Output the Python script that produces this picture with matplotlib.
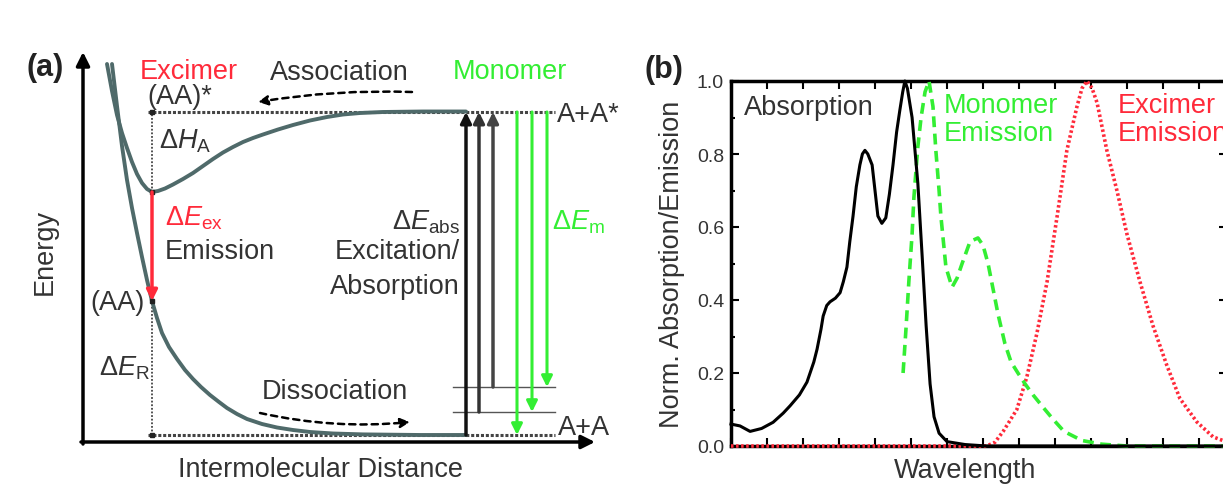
import matplotlib
matplotlib.use("Agg")
import matplotlib.pyplot as plt
from matplotlib.ticker import MultipleLocator, NullFormatter

plt.rcParams["font.family"] = ["Liberation Sans", "DejaVu Sans"]
plt.rcParams["mathtext.fontset"] = "custom"
plt.rcParams["mathtext.rm"] = "Liberation Sans"
plt.rcParams["mathtext.it"] = "Liberation Sans:italic"
plt.rcParams["mathtext.bf"] = "Liberation Sans:bold"

TXT = "#333333"
CURVE = "#4f6a6a"
RED = "#ff2a3a"
GREEN = "#33ee33"
FS = 19.5

# ── Panel (a): potential energy schematic (arbitrary units) ──
exc_r = [24, 29, 34, 39, 44, 49, 54, 59, 64, 69, 75, 82, 90, 100, 110, 120, 130,
         140, 150, 160, 170, 180, 195, 210, 227, 244, 260, 277, 300, 340, 383]
exc_E = [378, 351, 327, 309, 294, 280, 268, 259, 253, 250, 251, 253.5, 257.5, 263,
         269, 276, 283, 289.5, 295, 300, 304, 307.5, 312.5, 317, 321.5, 325, 327.5,
         329, 330, 330.5, 330.5]
gnd_r = [29, 34, 39, 44, 49, 54, 59, 64, 69, 74, 79, 86, 94, 102, 110, 118, 127,
         136, 144, 154, 164, 179, 194, 210, 227, 250, 280, 337, 383]
gnd_E = [378, 336, 296, 262, 234, 209, 185, 162, 141, 124, 109, 95, 83, 72, 63, 55,
         47, 40, 34, 28, 23, 18, 14.5, 12, 10, 8.5, 7.6, 7, 7]

E_PAIR = 7          # A+A
E_PAIR_EXC = 330    # A+A*
E_EXC_MIN = 250     # excimer minimum
E_AA = 141          # (AA) ground state at excimer distance
R_EQ = 69
vib_levels = [7, 30, 55]
abs_r = [383, 396, 410]
abs_colors = ["#111111", "#333333", "#444444"]
em_r = [434, 449, 464]
R_LEVEL_START = 65
R_LEVEL_END = 472
R_VIB_START = 370

# ── Panel (b): normalised spectra (wavelength in tick units) ──
abs_wl = [0.0, 0.25, 0.53, 0.85, 1.17, 1.45, 1.64, 1.9, 2.11, 2.3, 2.39, 2.5, 2.56,
          2.66, 2.75, 2.9, 3.03, 3.12, 3.22, 3.3, 3.39, 3.48, 3.58, 3.65, 3.72, 3.8,
          3.92, 4.0, 4.08, 4.19, 4.3, 4.4, 4.5, 4.6, 4.69, 4.77, 4.83, 4.9, 5.03,
          5.19, 5.31, 5.42, 5.53, 5.64, 5.78, 6.0, 6.5, 7.1, 13.8]
abs_val = [0.06, 0.055, 0.04, 0.048, 0.065, 0.09, 0.11, 0.14, 0.175, 0.23, 0.265,
           0.32, 0.356, 0.385, 0.395, 0.405, 0.42, 0.45, 0.49, 0.56, 0.63, 0.71,
           0.77, 0.80, 0.81, 0.80, 0.77, 0.70, 0.63, 0.61, 0.625, 0.69, 0.77, 0.86,
           0.92, 0.97, 1.0, 0.98, 0.90, 0.72, 0.52, 0.33, 0.17, 0.08, 0.035, 0.012,
           0.004, 0.0, 0.0]
mono_wl = [4.78, 4.86, 4.94, 5.03, 5.08, 5.19, 5.28, 5.39, 5.50, 5.61, 5.69, 5.78,
           5.83, 5.97, 6.14, 6.28, 6.42, 6.64, 6.86, 7.0, 7.14, 7.28, 7.42, 7.61,
           7.78, 7.97, 8.17, 8.39, 8.72, 8.94, 9.25, 9.75, 10.3, 11.0, 13.8]
mono_val = [0.20, 0.32, 0.45, 0.58, 0.68, 0.82, 0.90, 0.97, 1.0, 0.93, 0.81, 0.70,
            0.63, 0.49, 0.435, 0.46, 0.50, 0.56, 0.57, 0.55, 0.50, 0.43, 0.36, 0.28,
            0.23, 0.20, 0.17, 0.14, 0.10, 0.074, 0.04, 0.015, 0.005, 0.0, 0.0]
exc_wl = [0.0, 7.1, 7.33, 7.56, 7.75, 7.94, 8.22, 8.5, 8.78, 9.06, 9.33, 9.61, 9.75,
          9.89, 10.03, 10.17, 10.44, 10.72, 11.0, 11.36, 11.72, 12.11, 12.47, 12.94,
          13.39, 13.8]
exc_val = [0.0, 0.0, 0.01, 0.04, 0.07, 0.10, 0.19, 0.31, 0.45, 0.63, 0.81, 0.93,
           0.98, 1.0, 0.98, 0.94, 0.81, 0.70, 0.58, 0.45, 0.33, 0.22, 0.13, 0.066,
           0.025, 0.01]

fig = plt.figure(figsize=(12.23, 4.85), dpi=100)
fig.patch.set_facecolor("white")

# ── Panel (a) ───────────────────────────────────────────────
ax = fig.add_axes([0, 0, 620 / 1223, 1])
ax.set_xlim(-83, 537)
ax.set_ylim(-42, 443)
ax.axis("off")

arrow_kw = dict(arrowstyle="-|>", color="black", lw=2.5, mutation_scale=20,
                shrinkA=0, shrinkB=0)
ax.annotate("", xy=(0, 390), xytext=(0, -2), arrowprops=arrow_kw)
ax.annotate("", xy=(512, 0), xytext=(-2, 0), arrowprops=arrow_kw)

# level lines
level_kw = dict(color="#444444", lw=2.2, linestyle=(0, (1, 0.6)))
ax.plot([R_LEVEL_START, R_LEVEL_END], [E_PAIR_EXC, E_PAIR_EXC], **level_kw)
ax.plot([R_LEVEL_START, R_LEVEL_END], [E_PAIR, E_PAIR], **level_kw)
for e in vib_levels[1:]:
    ax.plot([R_VIB_START, R_LEVEL_END], [e, e], color="#555555", lw=1.0)
ax.plot([R_EQ, R_EQ], [E_EXC_MIN, E_PAIR_EXC], color="#444444", lw=1.3, linestyle=(0, (1, 1)))
ax.plot([R_EQ, R_EQ], [E_PAIR, E_AA], color="#444444", lw=1.3, linestyle=(0, (1, 1)))

# potential curves
ax.plot(exc_r, exc_E, color=CURVE, lw=2.8, solid_capstyle="round", solid_joinstyle="round")
ax.plot(gnd_r, gnd_E, color=CURVE, lw=2.8, solid_capstyle="round", solid_joinstyle="round")

# excimer emission
ax.annotate("", xy=(R_EQ, E_AA), xytext=(R_EQ, E_EXC_MIN),
            arrowprops=dict(arrowstyle="-|>", color=RED, lw=2.5, mutation_scale=16,
                            shrinkA=0, shrinkB=0))
ax.plot([R_EQ] * 4, [E_PAIR_EXC, E_EXC_MIN, E_AA, E_PAIR], "s", color="#222222", ms=3)

# absorption (up) and monomer emission (down)
for r, e, c in zip(abs_r, vib_levels, abs_colors):
    ax.annotate("", xy=(r, E_PAIR_EXC), xytext=(r, e),
                arrowprops=dict(arrowstyle="-|>", color=c, lw=2.5, mutation_scale=16,
                                shrinkA=0, shrinkB=0))
for r, e in zip(em_r, vib_levels):
    ax.annotate("", xy=(r, e), xytext=(r, E_PAIR_EXC),
                arrowprops=dict(arrowstyle="-|>", color=GREEN, lw=2.2, mutation_scale=16,
                                shrinkA=0, shrinkB=0))

# association / dissociation
dash_kw = dict(arrowstyle="-|>", color="black", lw=1.8, linestyle=(0, (2.5, 2)),
               mutation_scale=14, shrinkA=0, shrinkB=0)
ax.annotate("", xy=(175, 340), xytext=(329, 350),
            arrowprops=dict(connectionstyle="arc3,rad=0.05", **dash_kw))
ax.annotate("", xy=(327, 20), xytext=(177, 29),
            arrowprops=dict(connectionstyle="arc3,rad=0.08", **dash_kw))

# texts
ax.text(-38, 191, "Energy", rotation=90, fontsize=FS, color=TXT, ha="center", va="center")
ax.text(237, -27, "Intermolecular Distance", fontsize=FS, color=TXT, ha="center", va="center")
ax.text(-56, 375, "(a)", fontsize=22, fontweight="bold", color="#222222", ha="left", va="center")
ax.text(57, 371, "Excimer", fontsize=FS, color=RED, ha="left", va="center")
ax.text(64, 346, "(AA)*", fontsize=FS, color=TXT, ha="left", va="center")
ax.text(76, 302, r"$\Delta H_{\rm A}$", fontsize=FS, color=TXT, ha="left", va="center")
ax.text(82, 225, r"$\Delta E_{\rm ex}$", fontsize=FS, color=RED, ha="left", va="center")
ax.text(82, 191, "Emission", fontsize=FS, color=TXT, ha="left", va="center")
ax.text(62, 140, "(AA)", fontsize=FS, color=TXT, ha="right", va="center")
ax.text(67, 75, r"$\Delta E_{\rm R}$", fontsize=FS, color=TXT, ha="right", va="center")
ax.text(179, 51, "Dissociation", fontsize=FS, color=TXT, ha="left", va="center")
ax.text(187, 370, "Association", fontsize=FS, color=TXT, ha="left", va="center")
ax.text(370, 371, "Monomer", fontsize=FS, color=GREEN, ha="left", va="center")
ax.text(474, 328, "A+A*", fontsize=FS, color=TXT, ha="left", va="center")
ax.text(475, 15, "A+A", fontsize=FS, color=TXT, ha="left", va="center")
ax.text(377, 221, r"$\Delta E_{\rm abs}$", fontsize=FS, color=TXT, ha="right", va="center")
ax.text(377, 191, "Excitation/", fontsize=FS, color=TXT, ha="right", va="center")
ax.text(377, 156, "Absorption", fontsize=FS, color=TXT, ha="right", va="center")
ax.text(469, 221, r"$\Delta E_{\rm m}$", fontsize=FS, color=GREEN, ha="left", va="center")

# ── Panel (b) ───────────────────────────────────────────────
bx = fig.add_axes([731 / 1223, 38 / 485, 496 / 1223, 365 / 485])
bx.plot(exc_wl, exc_val, color=RED, lw=2.6, linestyle=(0, (0.7, 0.7)), zorder=3, clip_on=False)
bx.plot(mono_wl, mono_val, color=GREEN, lw=2.6, linestyle=(0, (3, 1.8)), zorder=3, clip_on=False)
bx.plot(abs_wl, abs_val, color="black", lw=2.2, zorder=4, clip_on=False)

bx.set_xlim(0, 496 / 36)
bx.set_ylim(0, 1.0)
bx.xaxis.set_major_locator(MultipleLocator(1))
bx.xaxis.set_major_formatter(NullFormatter())
bx.yaxis.set_major_locator(MultipleLocator(0.2))
bx.yaxis.set_minor_locator(MultipleLocator(0.1))
bx.tick_params(which="both", direction="in", top=True, right=True, width=1.5,
               labelsize=14, labelcolor=TXT, pad=5)
bx.tick_params(which="major", length=6)
bx.tick_params(which="minor", length=3)
for s in bx.spines.values():
    s.set_linewidth(2.5)

bx.set_ylabel("Norm. Absorption/Emission", fontsize=FS, color=TXT)
bx.yaxis.set_label_coords(-0.093, 0.5)
bx.set_xlabel("Wavelength", fontsize=FS, color=TXT)
bx.xaxis.set_label_coords(0.472, -0.03)

bx.text(0.35, 0.93, "Absorption", fontsize=FS, color=TXT, ha="left", va="center")
bx.text(5.92, 0.97, "Monomer\nEmission", fontsize=FS, color=GREEN, ha="left", va="top",
        linespacing=1.12)
bx.text(10.75, 0.97, "Excimer\nEmission", fontsize=FS, color=RED, ha="left", va="top",
        linespacing=1.12)
fig.text(645 / 1223, 1 - 70 / 485, "(b)", fontsize=22, fontweight="bold", color="#222222",
         ha="left", va="center")

fig.savefig("out.png", dpi=100)
